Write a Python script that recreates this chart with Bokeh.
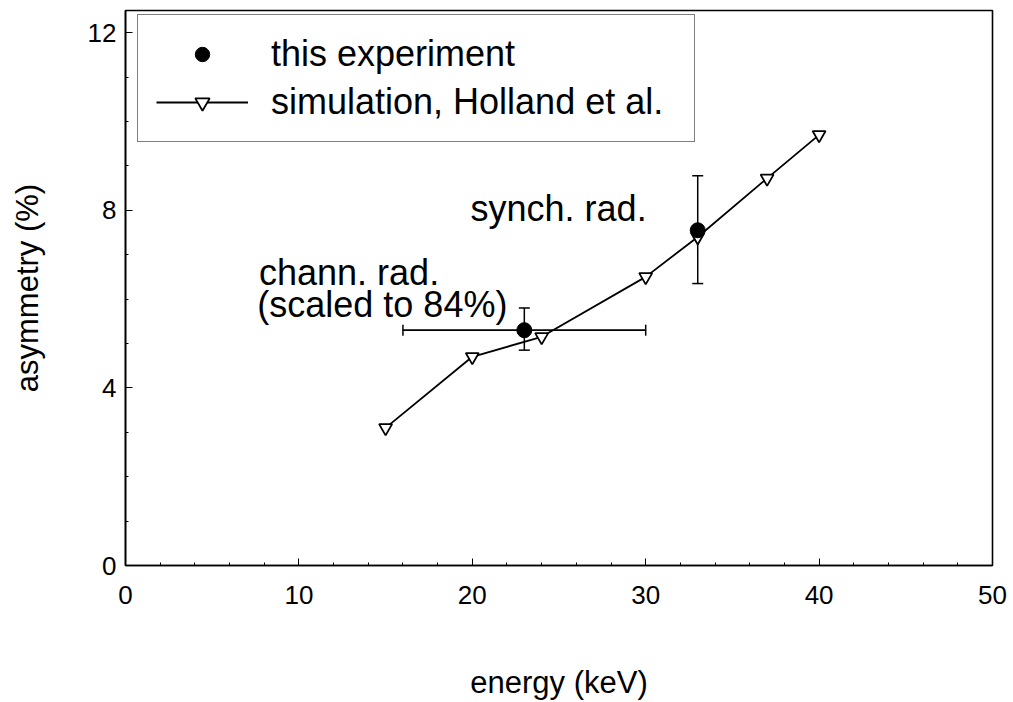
from bokeh.plotting import figure
from bokeh.models import (ColumnDataSource, Whisker, TeeHead, Legend, LegendItem,
                          FixedTicker, Label, Range1d)
from bokeh.embed import file_html
from bokeh.resources import INLINE

# ---- data ----
sim_energy = [15, 20, 24, 30, 33, 37, 40]
sim_asym = [3.1, 4.7, 5.15, 6.5, 7.4, 8.72, 9.7]

exp_energy = [23, 33]
exp_asym = [5.3, 7.55]
exp_asym_lo = [4.85, 6.35]
exp_asym_hi = [5.8, 8.78]

chann_energy = [23]
chann_asym = [5.3]
chann_energy_lo = [16]
chann_energy_hi = [30]

x_ticks = [0, 10, 20, 30, 40, 50]
x_minor = list(range(0, 51, 2))
y_ticks = [0, 4, 8, 12]
y_minor = list(range(0, 13, 1))

notes = ["synch. rad.", "chann. rad.", "(scaled to 84%)"]
note_x = [19.9, 7.7, 7.6]
note_y = [8.05, 6.6, 5.87]

FONT = "Liberation Sans"

p = figure(width=1013, height=702, output_backend="svg", toolbar_location=None,
           x_range=Range1d(0, 50), y_range=Range1d(0, 12.5),
           min_border_left=125, min_border_right=21, min_border_top=10,
           min_border_bottom=136)
p.grid.visible = False
p.outline_line_color = "black"
p.outline_line_width = 1.6
p.background_fill_color = "white"
p.border_fill_color = "white"

for ax, ticks, minor in ((p.xaxis[0], x_ticks, x_minor), (p.yaxis[0], y_ticks, y_minor)):
    ax.ticker = FixedTicker(ticks=ticks, minor_ticks=minor)
    ax.major_tick_in = 7
    ax.major_tick_out = 0
    ax.minor_tick_in = 3
    ax.minor_tick_out = 0
    ax.axis_line_color = "black"
    ax.axis_line_width = 1.6
    ax.major_tick_line_color = "black"
    ax.minor_tick_line_color = "black"
    ax.major_label_text_font = FONT
    ax.major_label_text_font_size = "26px"
    ax.major_label_text_color = "black"
    ax.axis_label_text_font = FONT
    ax.axis_label_text_font_size = "31px"
    ax.axis_label_text_font_style = "normal"
    ax.axis_label_text_color = "black"

p.xaxis.axis_label = "energy (keV)"
p.yaxis.axis_label = "asymmetry (%)"
p.xaxis.major_label_standoff = 20
p.yaxis.major_label_standoff = 9
p.xaxis.axis_label_standoff = 58
p.yaxis.axis_label_standoff = 40

# simulation
sim_line = p.line(sim_energy, sim_asym, line_color="black", line_width=1.8)
sim_pts = p.scatter(sim_energy, sim_asym, marker="inverted_triangle", size=13,
                    fill_color="white", line_color="black", line_width=1.8)

# error bars
ysrc = ColumnDataSource(dict(x=exp_energy, lo=exp_asym_lo, hi=exp_asym_hi))
p.add_layout(Whisker(base="x", lower="lo", upper="hi", source=ysrc, dimension="height",
                     line_color="black", line_width=1.5,
                     upper_head=TeeHead(size=11, line_width=1.5, line_color="black"),
                     lower_head=TeeHead(size=11, line_width=1.5, line_color="black")))
xsrc = ColumnDataSource(dict(y=chann_asym, lo=chann_energy_lo, hi=chann_energy_hi))
p.add_layout(Whisker(base="y", lower="lo", upper="hi", source=xsrc, dimension="width",
                     line_color="black", line_width=1.8,
                     upper_head=TeeHead(size=11, line_width=1.5, line_color="black"),
                     lower_head=TeeHead(size=11, line_width=1.5, line_color="black")))

exp_pts = p.scatter(exp_energy, exp_asym, marker="circle", size=15,
                    fill_color="black", line_color="black")

for t, x, y in zip(notes, note_x, note_y):
    p.add_layout(Label(x=x, y=y, text=t, text_font=FONT, text_font_size="36px",
                       text_color="black", text_baseline="alphabetic"))

legend = Legend(items=[LegendItem(label="this experiment", renderers=[exp_pts]),
                       LegendItem(label="simulation, Holland et al.", renderers=[sim_line, sim_pts])],
                location=(12, 423), orientation="vertical",
                label_text_font=FONT, label_text_font_size="36px", label_text_color="black",
                glyph_width=92, glyph_height=36, label_standoff=23, label_width=405,
                padding=18, spacing=6,
                border_line_color="black", border_line_width=1.6,
                background_fill_color="white", background_fill_alpha=1.0, margin=0)
p.add_layout(legend, "center")

open("out.html", "w").write(file_html(p, INLINE))
